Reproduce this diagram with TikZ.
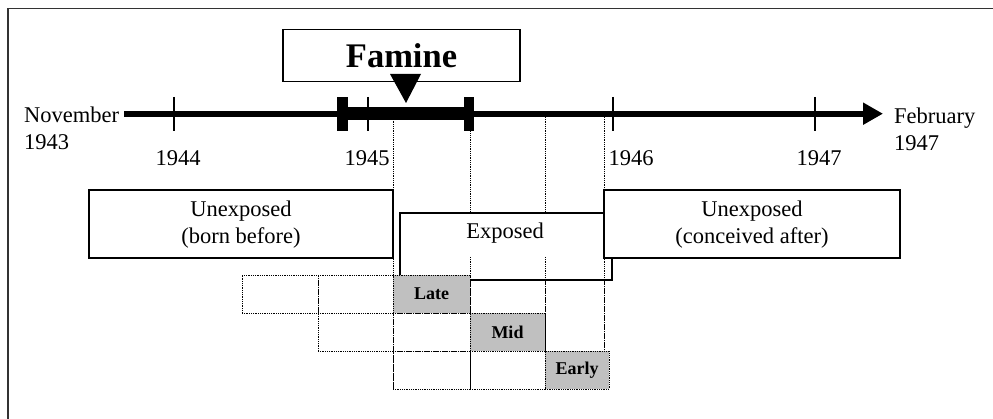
\documentclass[tikz,border=0pt]{standalone}
\usepackage{fontspec}
\setmainfont{Liberation Serif}
\usetikzlibrary{arrows.meta}
\definecolor{cellgray}{HTML}{C0C0C0}
\begin{document}
\begin{tikzpicture}[x=1pt,y=-1pt,
  box/.style={draw=black, line width=1.3pt, fill=white, inner sep=0pt},
  txt/.style={inner sep=0pt, font=\fontsize{22.5}{26.5}\selectfont, align=center},
  dotline/.style={draw=black, line width=0.9pt, dash pattern=on 0.9pt off 0.9pt},
  cell/.style={dotline, inner sep=0pt, minimum height=38pt},
  shaded/.style={cell, fill=cellgray, font=\fontsize{18}{21}\selectfont\bfseries},
  tick/.style={draw=black, line width=1.2pt},
  bar/.style={fill=black, draw=none, inner sep=0pt, minimum width=10.5pt, minimum height=34pt}
]
\useasboundingbox (0,0) rectangle (993,419);

% outer frame
\draw[black!80, line width=1.2pt] (8,430) -- (8,8.5) -- (1000,8.5);

% dotted guide lines from the timeline down to the grid
\foreach \x in {393,470,545,604}
  \draw[dotline] (\x,117) -- (\x,389);

% famine box and marker
\node[box, minimum width=237pt, minimum height=52pt,
      font=\fontsize{34.5}{40}\selectfont\bfseries] (famine) at (401.5,55.5) {Famine};
\fill[black] (390,74) -- (421,74) -- (406,103) -- cycle;

% timeline
\coordinate (tstart) at (124,113.7);
\coordinate (tend) at (883,113.7);
\draw[line width=6pt, -{Triangle[length=20pt,width=21pt]}] (tstart) -- (tend);
\coordinate (fs) at (347,113.5);
\coordinate (fe) at (465,113.5);
\draw[line width=13pt] (fs) -- (fe);
\node[bar] (barL) at (342.5,114) {};
\node[bar] (barR) at (469,114) {};

% year ticks
\foreach \x in {174,368,613,815}
  \draw[tick] (\x,97) -- (\x,131);

% labels
\node[txt] (y1944) at (178,158) {1944};
\node[txt] (y1945) at (367,158) {1945};
\node[txt] (y1946) at (631,158) {1946};
\node[txt] (y1947) at (819,158) {1947};
\node[txt, align=left, anchor=west] (nov) at (24,128.5) {November\\1943};
\node[txt, align=left, anchor=west] (feb) at (894,129.5) {February\\1947};

% exposure boxes
\node[box, minimum width=304pt, minimum height=68pt] (ubefore) at (241,224) {};
\node[txt] (ubeforet) at (241,224.5) {Unexposed\\(born before)};
\node[box, minimum width=212pt, minimum height=67pt] (exposed) at (506,246.5) {};
\node[txt] (exposedt) at (505,233) {Exposed};
\node[box, minimum width=296pt, minimum height=68pt] (uafter) at (752,224) {};
\node[txt] (uaftert) at (752,224.5) {Unexposed\\(conceived after)};

% guide lines continued inside the exposed box
\foreach \x in {470,545,604}
  \draw[dotline] (\x,257) -- (\x,389);

% grid of cells
\node[cell, minimum width=76pt] (c11) at (280,294) {};
\node[cell, minimum width=75pt] (c12) at (355.5,294) {};
\node[shaded, minimum width=77pt] (late) at (431.5,294) {Late};
\node[cell, minimum width=75pt] (c21) at (355.5,332) {};
\node[cell, minimum width=77pt] (c22) at (431.5,332) {};
\node[shaded, minimum width=75pt] (mid) at (507.5,332) {Mid};
\node[cell, minimum width=77pt] (c31) at (431.5,370) {};
\node[cell, minimum width=75pt] (c32) at (507.5,370) {};
\node[shaded, minimum width=64pt] (early) at (577,370) {Early};
\end{tikzpicture}
\end{document}
